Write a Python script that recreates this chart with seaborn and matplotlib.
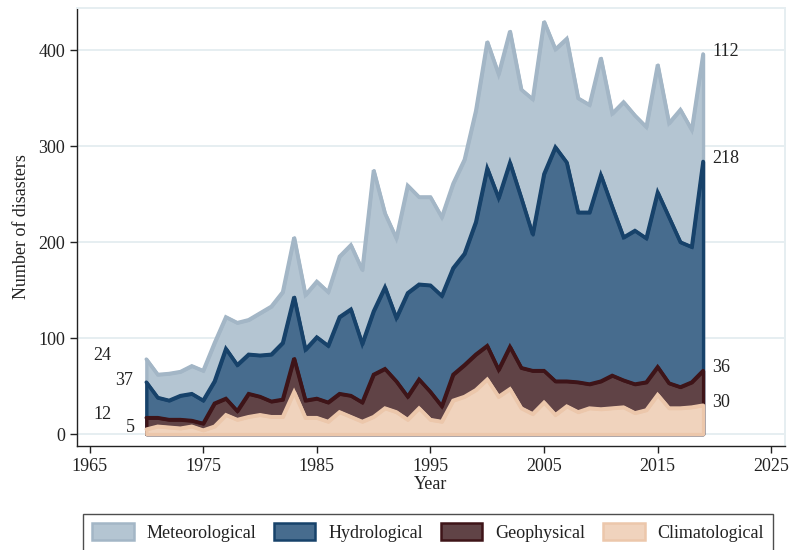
import matplotlib
matplotlib.use("Agg")
import matplotlib.pyplot as plt
from matplotlib.patches import Patch
import numpy as np
import pandas as pd
import seaborn as sns

years = list(range(1970, 2020))

climatological = [5, 8, 7, 6, 8, 4, 8, 20, 15, 18, 20, 18, 18, 44, 17, 17, 13, 23, 18, 13,
                  18, 27, 23, 15, 27, 15, 13, 35, 39, 46, 57, 39, 47, 27, 21, 33, 20, 29, 23, 27,
                  26, 27, 28, 22, 25, 41, 27, 27, 28, 30]
geophysical = [12, 9, 8, 9, 6, 7, 24, 17, 9, 24, 19, 16, 18, 35, 18, 20, 20, 19, 22, 20,
               44, 41, 32, 24, 30, 29, 16, 27, 33, 37, 35, 28, 44, 42, 45, 33, 35, 26, 31, 25,
               29, 34, 28, 30, 29, 29, 26, 22, 26, 36]
hydrological = [37, 21, 20, 25, 28, 24, 23, 52, 48, 41, 43, 49, 59, 64, 53, 64, 59, 80, 90, 61,
                66, 85, 66, 108, 99, 111, 115, 111, 116, 138, 185, 179, 192, 177, 142, 205, 244, 228, 177, 179,
                215, 176, 149, 160, 150, 182, 173, 151, 141, 218]
meteorological = [24, 24, 28, 25, 29, 31, 40, 33, 44, 36, 44, 50, 53, 62, 57, 58, 56, 63, 67, 77,
                  147, 77, 83, 112, 91, 92, 82, 88, 98, 116, 132, 129, 137, 113, 141, 159, 102, 129, 119, 112,
                  122, 97, 141, 120, 116, 133, 98, 138, 122, 112]

categories = ["Meteorological", "Hydrological", "Geophysical", "Climatological"]
fills = {"Meteorological": "#b4c5d2", "Hydrological": "#476c8e",
         "Geophysical": "#604346", "Climatological": "#f0d3bd"}
edges = {"Meteorological": "#a3b6c6", "Hydrological": "#17426a",
         "Geophysical": "#3e1418", "Climatological": "#ecc7ab"}

df = pd.DataFrame({"Year": years,
                   "Climatological": climatological,
                   "Geophysical": geophysical,
                   "Hydrological": hydrological,
                   "Meteorological": meteorological})
# cumulative totals, stacked from the bottom up
df["Climatological_top"] = df["Climatological"]
df["Geophysical_top"] = df["Climatological_top"] + df["Geophysical"]
df["Hydrological_top"] = df["Geophysical_top"] + df["Hydrological"]
df["Meteorological_top"] = df["Hydrological_top"] + df["Meteorological"]

sns.set_theme(style="white")
plt.rcParams["font.family"] = ["Liberation Serif", "DejaVu Serif"]

fig = plt.figure(figsize=(7.9, 5.5), dpi=100)
ax = fig.add_axes([0.0975, 0.189, 0.896, 0.7965])

# overlapping areas from zero up to each cumulative total, largest first
for i, cat in enumerate(categories):
    top = df[cat + "_top"]
    ax.fill_between(df["Year"], 0, top, facecolor=fills[cat], edgecolor=edges[cat],
                    linewidth=2.4, zorder=2 + i)
    sns.lineplot(x=df["Year"], y=top, color=edges[cat], linewidth=2.6, ax=ax,
                 zorder=2.5 + i, solid_joinstyle="miter")

# value labels at both ends of each band
first = df.iloc[0]
last = df.iloc[-1]
left_offsets = {"Meteorological": (-44, 4), "Hydrological": (-22, 2),
                "Geophysical": (-44, 3), "Climatological": (-16, 2)}
for cat in categories:
    dx, dy = left_offsets[cat]
    ax.annotate(f"{int(first[cat])}", xy=(first["Year"], first[cat + "_top"]),
                xytext=(dx, dy), textcoords="offset pixels", ha="center", va="center",
                fontsize=13, color="#222222", zorder=10)
    ax.annotate(f"{int(last[cat])}", xy=(last["Year"], last[cat + "_top"]),
                xytext=(9, 3), textcoords="offset pixels", ha="left", va="center",
                fontsize=13, color="#222222", zorder=10)

ax.set_xlim(1963.9, 2026.2)
ax.set_ylim(-12.5, 444)
ax.set_xticks(range(1965, 2026, 10))
ax.set_yticks(range(0, 401, 100))
ax.yaxis.grid(True, color="#e6eef1", linewidth=1.4, zorder=0)
ax.set_axisbelow(True)

for side in ["top", "right"]:
    ax.spines[side].set_color("#e6eef1")
    ax.spines[side].set_linewidth(1.4)
for side in ["left", "bottom"]:
    ax.spines[side].set_color("#222222")
    ax.spines[side].set_linewidth(1.0)

ax.tick_params(axis="both", which="major", direction="out", length=5, width=1,
               color="#222222", labelsize=13, labelcolor="#222222", left=True, bottom=True)
ax.set_xlabel("Year", fontsize=13, color="#222222", labelpad=1)
ax.set_ylabel("Number of disasters", fontsize=13, color="#222222", labelpad=6)

handles = [Patch(facecolor=fills[c], edgecolor=edges[c], linewidth=1.8, label=c)
           for c in categories]
leg = fig.legend(handles=handles, loc="upper left", bbox_to_anchor=(0.105, 0.066),
                 ncol=4, frameon=True, fancybox=False, fontsize=13,
                 handlelength=2.3, handleheight=1.1, handletextpad=0.7,
                 columnspacing=1.0, borderpad=0.5, borderaxespad=0)
leg.get_frame().set_edgecolor("#222222")
leg.get_frame().set_linewidth(1.0)
for t in leg.get_texts():
    t.set_color("#222222")

fig.savefig("out.png", dpi=100)
